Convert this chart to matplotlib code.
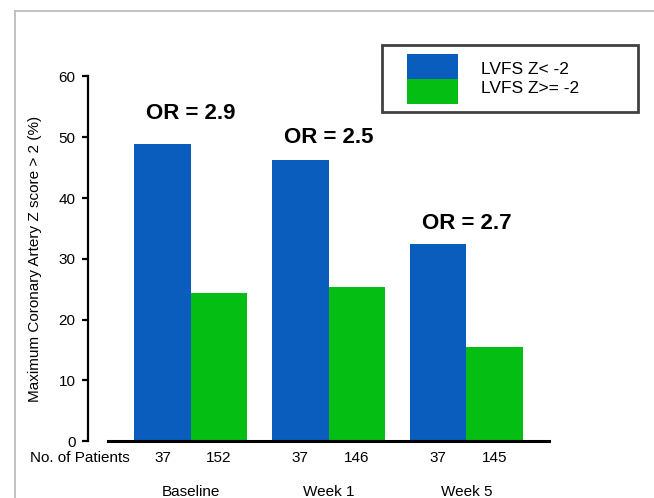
import numpy as np
import matplotlib
matplotlib.use("Agg")
import matplotlib.pyplot as plt
import matplotlib.patches as mpatches
from matplotlib.lines import Line2D
from matplotlib.offsetbox import HPacker, DrawingArea

plt.rcParams['font.family'] = ['Liberation Sans', 'DejaVu Sans']

# data
groups = ['Baseline', 'Week 1', 'Week 5']
lvfs_low = [48.9, 46.3, 32.5]      # LVFS Z< -2
lvfs_high = [24.4, 25.4, 15.4]     # LVFS Z>= -2
n_low = [37, 37, 37]
n_high = [152, 146, 145]
odds_ratios = [2.9, 2.5, 2.7]

BLUE = '#0a5cbd'
GREEN = '#05be14'


class StackedPatchHandler:
    """Legend handle: one box, blue on top, green below."""
    def legend_artist(self, legend, orig_handle, fontsize, handlebox):
        x0, y0 = -handlebox.xdescent, -handlebox.ydescent
        w, h = handlebox.width, handlebox.height
        off = w * 0.24
        bot = mpatches.Rectangle((x0 + off, y0), w - off, h / 2,
                                 facecolor=GREEN, edgecolor='none',
                                 transform=handlebox.get_transform())
        top = mpatches.Rectangle((x0 + off, y0 + h / 2), w - off, h / 2,
                                 facecolor=BLUE, edgecolor='none',
                                 transform=handlebox.get_transform())
        handlebox.add_artist(bot)
        handlebox.add_artist(top)
        return top


W, H = 654, 498
fig = plt.figure(figsize=(W / 100, H / 100), dpi=100)
ax = fig.add_axes([108 / W, 1 - 441 / H, 441 / W, 364.5 / H])

x = np.arange(len(groups))
bw = 0.41
ax.bar(x - bw / 2, lvfs_low, bw, color=BLUE)
ax.bar(x + bw / 2, lvfs_high, bw, color=GREEN)

ax.set_xlim(-0.6, 2.6)
ax.set_ylim(0, 60)
ax.set_yticks(np.arange(0, 61, 10))

for s in ['top', 'right']:
    ax.spines[s].set_visible(False)
ax.spines['left'].set_position(('outward', 14.4))
ax.spines['left'].set_bounds(0, 60)
ax.spines['left'].set_linewidth(1.6)
ax.spines['bottom'].set_linewidth(2.2)
ax.tick_params(axis='y', direction='out', length=4, width=1.6,
               labelsize=11, pad=5)

# patient counts as x tick labels
pos = np.concatenate([x - bw / 2, x + bw / 2])
cnt = [str(v) for v in n_low + n_high]
ax.set_xticks(pos)
ax.set_xticklabels(cnt, fontsize=11)
ax.tick_params(axis='x', length=0, pad=7)

ax.text(0.05, -0.047, 'No. of Patients', transform=ax.transAxes,
        ha='right', va='center', fontsize=11)
for xi, g in zip(x, groups):
    ax.text(xi, -0.14, g, transform=ax.get_xaxis_transform(),
            ha='center', va='center', fontsize=11)

ax.set_ylabel('Maximum Coronary Artery Z score > 2 (%)', fontsize=11,
              labelpad=12)

# odds ratio labels above each group
or_offsets = [22, 16, 14.5]
for xi, top, orv, off in zip(x, lvfs_low, odds_ratios, or_offsets):
    ax.annotate(f'OR = {orv}', xy=(xi, top), xytext=(0, off),
                textcoords='offset points', ha='center', va='center',
                fontsize=16, fontweight='bold')

# legend: single stacked swatch with two-line label
leg = ax.legend([object()], ['LVFS Z< -2\nLVFS Z>= -2'],
                handler_map={object: StackedPatchHandler()},
                loc='upper left', mode='expand',
                bbox_to_anchor=(382 / W, 1 - 113 / H, 256 / W, 68 / H),
                bbox_transform=fig.transFigure,
                fontsize=12.5, handlelength=3.85, handleheight=4.05,
                handletextpad=1.35, borderpad=0.5, borderaxespad=0,
                fancybox=False, shadow=False, frameon=True)
leg.get_frame().set_edgecolor('#111111')
leg.get_frame().set_linewidth(2)
leg.get_texts()[0].set_linespacing(1.35)
# centre the two text lines on the swatch
for hp in leg.findobj(match=HPacker):
    kids = hp.get_children()
    if any(isinstance(k, DrawingArea) for k in kids):
        hp.align = 'center'

# light grey frame around the picture (top and left edge)
fig.add_artist(Line2D([15 / W, 15 / W], [0, 1 - 11 / H],
                      transform=fig.transFigure, color='#b8b8b8', lw=1.2))
fig.add_artist(Line2D([15 / W, 1], [1 - 11 / H, 1 - 11 / H],
                      transform=fig.transFigure, color='#b8b8b8', lw=1.2))

fig.savefig('out.png', dpi=100)
